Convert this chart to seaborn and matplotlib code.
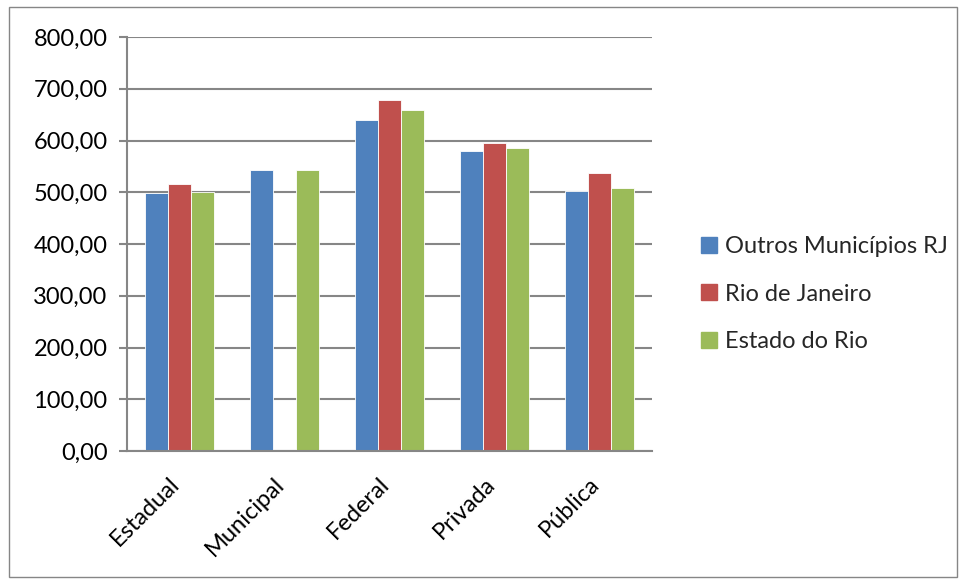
import numpy as np
import pandas as pd
import matplotlib
matplotlib.use('Agg')
import matplotlib.pyplot as plt
from matplotlib.patches import Rectangle
import seaborn as sns

# dades
categorias = ['Estadual', 'Municipal', 'Federal', 'Privada', 'Pública']
outros_municipios = [498, 543, 639, 579, 503]
rio_de_janeiro = [515, np.nan, 679, 596, 538]
estado_do_rio = [501, 543, 659, 586, 508]
series = ['Outros Municípios RJ', 'Rio de Janeiro', 'Estado do Rio']
cores = ['#4F81BD', '#C0504D', '#9BBB59']

df = pd.DataFrame({
    'categoria': categorias * 3,
    'serie': [series[0]] * 5 + [series[1]] * 5 + [series[2]] * 5,
    'valor': outros_municipios + rio_de_janeiro + estado_do_rio,
})

sns.set_style('white')
plt.rcParams['font.family'] = ['Lato', 'DejaVu Sans']
fs = 17

fig = plt.figure(figsize=(9.59, 5.79), dpi=100)
ax = fig.add_axes([127 / 959, 128 / 579, 525 / 959, 414 / 579])

sns.barplot(data=df, x='categoria', y='valor', hue='serie', order=categorias,
            hue_order=series, palette=cores, width=0.65, saturation=1,
            edgecolor='white', linewidth=0.6, ax=ax)

ax.set_ylim(0, 800)
ax.set_xlim(-0.5, 4.5)
ax.set_yticks(np.arange(0, 801, 100))
ax.set_yticklabels([f'{v:.2f}'.replace('.', ',') for v in range(0, 801, 100)],
                   fontsize=fs, color='black')
ax.yaxis.grid(True, color='#868686', linewidth=1.5)
ax.set_axisbelow(True)

# etiquetes una mica a l'esquerra del centre de cada categoria
ax.set_xticks(np.arange(5) - 0.1)
ax.set_xticklabels(categorias, rotation=45, ha='right', va='top',
                   rotation_mode='anchor', fontsize=fs, color='black')
ax.set_xticks(np.arange(-0.5, 5, 1), minor=True)
ax.tick_params(axis='x', which='major', length=0, pad=16)
ax.tick_params(axis='x', which='minor', length=6, width=1.5, color='#868686', direction='out')
ax.tick_params(axis='y', length=6, width=1.5, color='#868686', direction='out', left=True, pad=8)
ax.set_xlabel('')
ax.set_ylabel('')

for s in ['top', 'right']:
    ax.spines[s].set_visible(False)
for s in ['left', 'bottom']:
    ax.spines[s].set_color('#868686')
    ax.spines[s].set_linewidth(1.5)

ax.legend_.remove()
handles = [Rectangle((0, 0), 1, 1, color=c) for c in cores]
fig.legend(handles, series, loc='center left', bbox_to_anchor=(0.719, 0.492),
           frameon=False, fontsize=fs, handlelength=0.65, handleheight=0.65,
           handletextpad=0.35, labelspacing=1.12, borderpad=0)

fig.patches.append(Rectangle((9 / 959, 2 / 579), 948 / 959, 570 / 579,
                             transform=fig.transFigure, fill=False,
                             edgecolor='#868686', linewidth=1))

fig.savefig('out.png', dpi=100)
